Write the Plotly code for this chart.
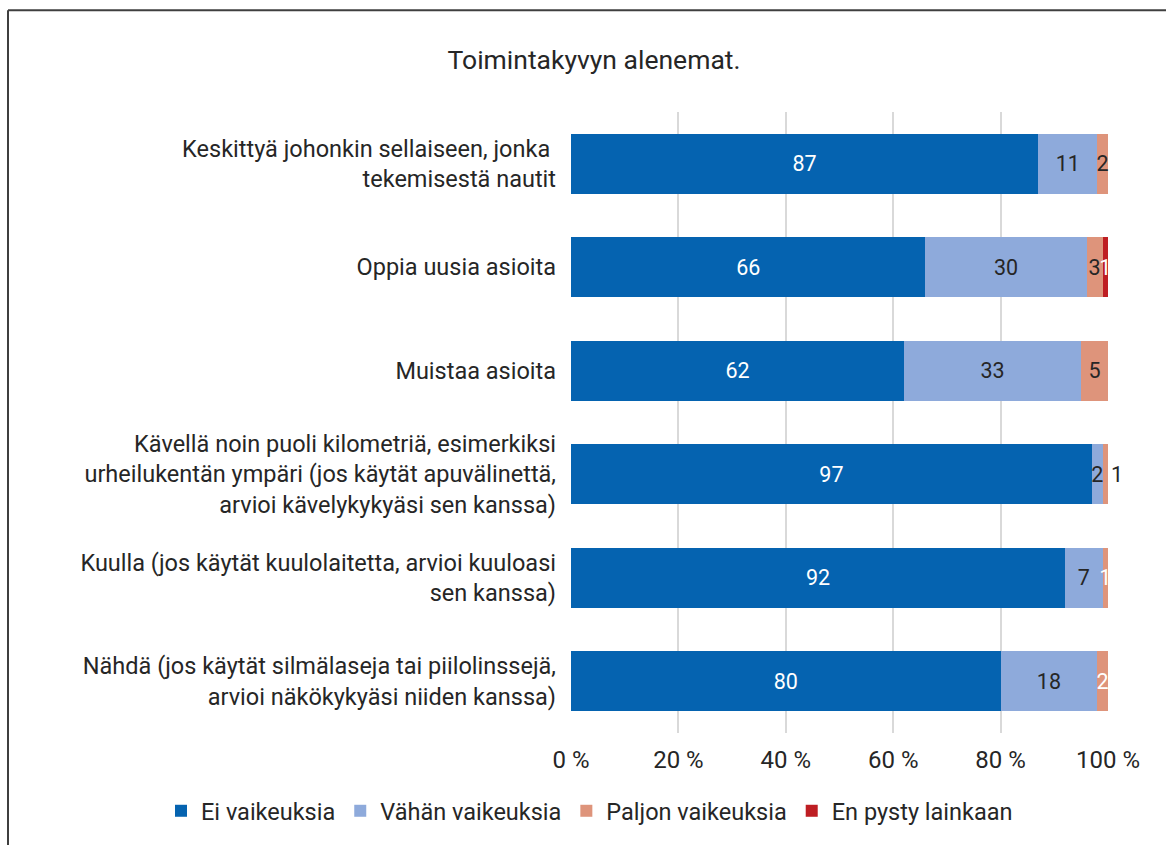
import plotly.graph_objects as go

categories = [
    "Keskittyä johonkin sellaiseen, jonka <br>tekemisestä nautit",
    "Oppia uusia asioita",
    "Muistaa asioita",
    "Kävellä noin puoli kilometriä, esimerkiksi<br>urheilukentän ympäri (jos käytät apuvälinettä,<br>arvioi kävelykykyäsi sen kanssa)",
    "Kuulla (jos käytät kuulolaitetta, arvioi kuuloasi<br>sen kanssa)",
    "Nähdä (jos käytät silmälaseja tai piilolinssejä,<br>arvioi näkökykyäsi niiden kanssa)",
]
series_names = ["Ei vaikeuksia", "Vähän vaikeuksia", "Paljon vaikeuksia", "En pysty lainkaan"]
ei = [87, 66, 62, 97, 92, 80]
vahan = [11, 30, 33, 2, 7, 18]
paljon = [2, 3, 5, 1, 1, 2]
en_pysty = [None, 1, None, None, None, None]
tick_vals = [0, 20, 40, 60, 80, 100]
tick_text = ["0 %", "20 %", "40 %", "60 %", "80 %", "100 %"]
title_text = "Toimintakyvyn alenemat."

colors = ["#0563B0", "#8EAADB", "#DE947B", "#BE1E23"]
dark = "#262626"
paljon_text_colors = [dark, dark, dark, dark, "white", "white"]
label_colors = ["white", dark, paljon_text_colors, "white"]
paljon_pos = ["inside", "inside", "inside", "outside", "inside", "inside"]
positions = ["inside", "inside", paljon_pos, "inside"]

FONT = "Roboto"
W, H = 1166, 845
ML, MR, MT, MB = 571, 58, 112, 104

fig = go.Figure()
for name, vals, col, tcol, tpos in zip(series_names, [ei, vahan, paljon, en_pysty], colors,
                                       label_colors, positions):
    fig.add_trace(go.Bar(
        y=categories, x=vals, name=name, orientation="h",
        marker=dict(color=col, line=dict(width=0)),
        text=[str(v) if v else "" for v in vals],
        textposition=tpos, insidetextanchor="middle",
        constraintext="none", cliponaxis=False,
        textfont=dict(family=FONT, size=21.5, color=tcol),
        outsidetextfont=dict(family=FONT, size=21.5, color=dark),
        hoverinfo="x+name",
    ))

pw = W - ML - MR
ph = H - MT - MB
x0 = (8 - ML) / pw
x1 = (W + 50 - ML) / pw
y_top = (H - MB - 9) / ph
y_bot = (H - MB - (H + 50)) / ph
fig.add_shape(type="line", xref="paper", yref="paper", x0=x0, x1=x0, y0=y_top, y1=y_bot,
              line=dict(color="#3f3f3f", width=2))
fig.add_shape(type="line", xref="paper", yref="paper", x0=x0, x1=x1, y0=y_top, y1=y_top,
              line=dict(color="#3f3f3f", width=2))

fig.update_layout(
    width=W, height=H,
    barmode="stack", bargap=0.42,
    margin=dict(l=ML, r=MR, t=MT, b=MB),
    paper_bgcolor="white", plot_bgcolor="white",
    font=dict(family=FONT, size=22, color=dark),
    title=dict(text=title_text, x=594 / W, xanchor="center", y=1 - 60 / H, yanchor="middle",
               font=dict(family=FONT, size=26.5, color=dark)),
    xaxis=dict(range=[0, 100], tickvals=tick_vals, ticktext=tick_text,
               showgrid=True, gridcolor="#D9D9D9", gridwidth=2, zeroline=False,
               showline=False, ticks="", ticklabelstandoff=10,
               tickfont=dict(size=24, color=dark)),
    yaxis=dict(autorange="reversed", showgrid=False, ticks="", ticklabelstandoff=14,
               tickfont=dict(size=23.5, color=dark)),
    legend=dict(orientation="h", xref="paper", yref="paper",
                x=(161 - ML) / pw, xanchor="left", y=(H - MB - 820) / ph, yanchor="middle",
                font=dict(size=23.5, color=dark), itemwidth=30, traceorder="normal"),
)

fig.write_html("out.html", post_script="document.body.style.margin='0px';",
               config={"displayModeBar": False})
